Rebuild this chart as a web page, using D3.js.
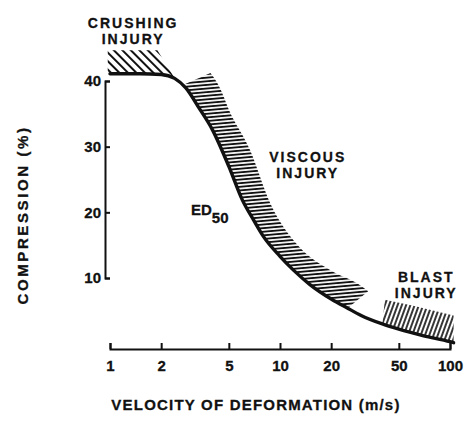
<!DOCTYPE html>
<html>
<head>
<meta charset="utf-8">
<script src="https://cdn.jsdelivr.net/npm/d3@7"></script>
<style>
  body { margin: 0; background: #fff; }
  svg text { font-family: "Liberation Sans", Arial, sans-serif; font-weight: bold; fill: #111; stroke: #111; stroke-width: 0.3px; }
</style>
</head>
<body>
<svg id="chart" width="465" height="437"></svg>
<script>
// ED50 curve: velocity of deformation (m/s) vs compression (%)
const velocity    = [1, 1.5, 2, 2.4, 2.8, 3.3, 4, 5, 6, 7, 8, 10, 12, 15, 20, 25, 30, 40, 50, 70, 100, 105];
const compression = [41.1, 41.1, 41.0, 40.4, 38.9, 36.1, 32.6, 27.0, 21.9, 18.8, 16.3, 13.3, 11.2, 9.0, 6.8, 5.4, 4.3, 3.0, 2.2, 1.2, 0.3, 0.15];

// upper edges of the hatched injury zones
const crushingTop = [[0.97, 44.7], [1.9, 44.7]];
const viscousTop  = [[2.69, 39.4], [3.9, 41.2], [4.44, 38.9], [5.01, 35.6], [6.66, 29.5], [8.76, 21.4], [12.8, 14.9], [19.7, 11.2], [30, 8.8], [33, 8.0]];
const blastTop    = [[41.4, 6.7], [60, 5.8], [105, 4.3]];

const xTicks = [1, 2, 5, 10, 20, 50, 100];
const yTicks = [10, 20, 30, 40];

const svg = d3.select("#chart");

const x = d3.scaleLog().domain([1, 100]).range([110, 450]);
const y = d3.scaleLinear().domain([10, 40]).range([278, 81]);

const curve = velocity.map((v, i) => [v, compression[i]]);
const px = d => [x(d[0]), y(d[1])];

// hatch patterns
const defs = svg.append("defs");
function hatch(id, gap, angle, width) {
	defs.append("pattern")
		.attr("id", id)
		.attr("patternUnits", "userSpaceOnUse")
		.attr("width", 20)
		.attr("height", gap)
		.attr("patternTransform", "rotate(" + angle + ")")
		.append("line")
		.attr("x1", 0).attr("x2", 20)
		.attr("y1", gap / 2).attr("y2", gap / 2)
		.attr("stroke", "#111")
		.attr("stroke-width", width);
}
hatch("hCrush", 6, 45, 2);
hatch("hVisc", 3.6, -5, 1.9);
hatch("hBlast", 4, -70, 1.7);

const line = d3.line().curve(d3.curveMonotoneX);

// zone outlines: straight cut to the first corner, then top edge, then back along the curve
function zone(top, vFrom, vTo, smooth) {
	const under = curve.filter(d => d[0] >= vFrom && d[0] <= vTo).reverse();
	let head;
	if (smooth) {
		head = "M" + px(top[0]) + line(top.slice(1).map(px)).replace(/^M/, "L");
	} else {
		head = "M" + top.map(px).join("L");
	}
	return head + "L" + under.map(px).join("L") + "Z";
}
const zones = [
	{ fill: "url(#hCrush)", d: zone(crushingTop, 1, 2.4, false).replace("Z", "L" + px([0.97, 41.1]) + "Z") },
	{ fill: "url(#hVisc)", d: zone(viscousTop, 2.8, 25, true) },
	{ fill: "url(#hBlast)", d: zone(blastTop, 40, 105, false) }
];
svg.append("g").selectAll("path")
	.data(zones)
	.enter()
	.append("path")
	.attr("d", z => z.d)
	.attr("fill", z => z.fill);

// ED50 curve
svg.append("path")
	.attr("d", line(curve.map(px)))
	.attr("fill", "none")
	.attr("stroke", "#111")
	.attr("stroke-width", 3.4)
	.attr("stroke-linecap", "round");

// axes
const yAxis = d3.axisLeft(y).tickValues(yTicks).tickSize(-5).tickSizeOuter(-5).tickPadding(4);
const gY = svg.append("g").attr("transform", "translate(105,0)").call(yAxis);

const xAxis = d3.axisBottom(x).tickValues(xTicks).tickFormat(d3.format("d"))
	.tickSize(-6).tickSizeOuter(-6).tickPadding(11);
const gX = svg.append("g").attr("transform", "translate(0,349)").call(xAxis);

[gX, gY].forEach(g => {
	g.selectAll("path, line").attr("stroke", "#111").attr("stroke-width", 2);
	g.selectAll("text").style("font-size", "15px").attr("fill", "#111");
});

// axis titles
svg.append("text")
	.attr("x", 256).attr("y", 410)
	.attr("text-anchor", "middle")
	.style("font-size", "15px").style("letter-spacing", "1.2px")
	.text("VELOCITY OF DEFORMATION (m/s)");

svg.append("text")
	.attr("transform", "translate(28,215) rotate(-90)")
	.attr("text-anchor", "middle")
	.style("font-size", "15px").style("letter-spacing", "2.6px")
	.text("COMPRESSION (%)");

// zone labels
function label(lines, cx, top) {
	const t = svg.append("text")
		.attr("text-anchor", "middle")
		.style("font-size", "14px").style("letter-spacing", "2px");
	lines.forEach((s, i) => t.append("tspan").attr("x", cx).attr("y", top + i * 16).text(s));
}
label(["CRUSHING", "INJURY"], x(1.35) + 1, 28);
label(["VISCOUS", "INJURY"], x(7.4) + 50, 162);
label(["BLAST", "INJURY"], x(60) + 14, 282);

// ED50
const ed = svg.append("text")
	.attr("x", 191).attr("y", 215)
	.style("font-size", "15px");
ed.append("tspan").text("ED");
ed.append("tspan").attr("dy", 8).text("50");
</script>
</body>
</html>
